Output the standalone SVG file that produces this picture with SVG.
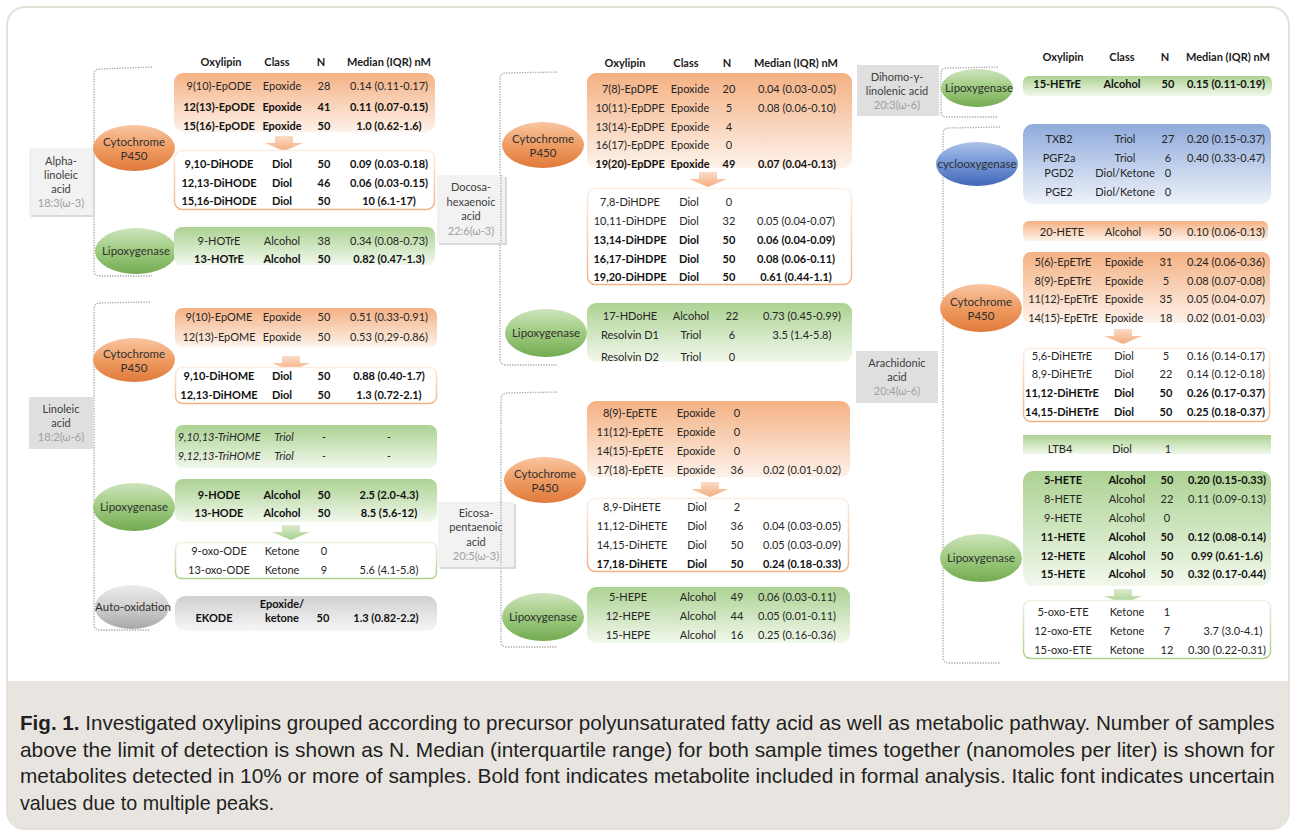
<svg xmlns="http://www.w3.org/2000/svg" width="1294" height="833" viewBox="0 0 1294 833">
<defs>
<linearGradient id="gO" x1="0" y1="0" x2="0" y2="1"><stop offset="0" stop-color="#f4b183"/><stop offset="1" stop-color="#fdf2ea"/></linearGradient>
<linearGradient id="gG" x1="0" y1="0" x2="0" y2="1"><stop offset="0" stop-color="#acd292"/><stop offset="1" stop-color="#f1f8ec"/></linearGradient>
<linearGradient id="gB" x1="0" y1="0" x2="0" y2="1"><stop offset="0" stop-color="#8eaadb"/><stop offset="1" stop-color="#eef2fa"/></linearGradient>
<linearGradient id="gK" x1="0" y1="0" x2="0" y2="1"><stop offset="0" stop-color="#d0d0d0"/><stop offset="1" stop-color="#f6f6f6"/></linearGradient>
<linearGradient id="sO" x1="0" y1="0" x2="0" y2="1"><stop offset="0" stop-color="#fdeee4"/><stop offset="1" stop-color="#f4b183"/></linearGradient>
<linearGradient id="sG" x1="0" y1="0" x2="0" y2="1"><stop offset="0" stop-color="#eaf4e3"/><stop offset="1" stop-color="#a9d18e"/></linearGradient>
<linearGradient id="eO" x1="0" y1="0" x2="0" y2="1"><stop offset="0" stop-color="#f9c6a2"/><stop offset="0.5" stop-color="#ef9c63"/><stop offset="1" stop-color="#e07a3a"/></linearGradient>
<linearGradient id="eG" x1="0" y1="0" x2="0" y2="1"><stop offset="0" stop-color="#cde4bc"/><stop offset="0.5" stop-color="#9ecb80"/><stop offset="1" stop-color="#73aa50"/></linearGradient>
<linearGradient id="eB" x1="0" y1="0" x2="0" y2="1"><stop offset="0" stop-color="#adc1e8"/><stop offset="0.5" stop-color="#7194d6"/><stop offset="1" stop-color="#4468b8"/></linearGradient>
<linearGradient id="eK" x1="0" y1="0" x2="0" y2="1"><stop offset="0" stop-color="#ececec"/><stop offset="0.5" stop-color="#cfcfcf"/><stop offset="1" stop-color="#a8a8a8"/></linearGradient>
<linearGradient id="aO" x1="0" y1="0" x2="0" y2="1"><stop offset="0" stop-color="#fbdcc8"/><stop offset="1" stop-color="#f3ac7c"/></linearGradient>
<linearGradient id="aG" x1="0" y1="0" x2="0" y2="1"><stop offset="0" stop-color="#dcecd0"/><stop offset="1" stop-color="#a6cf8a"/></linearGradient>
<path id="arr" d="M-9 0 h18 v7 h10 l-19 8 l-19 -8 h10 z"/>
<style>
text{font-family:Lato,"Liberation Sans",sans-serif;font-size:11px;fill:#262626;text-anchor:middle}
.h text,text.h{font-weight:bold;fill:#1a1a1a}
.b text{font-weight:bold;fill:#111}
.i text{font-style:italic}
.en{font-size:11.5px;fill:#303030}
.ac{fill:#404040;font-size:11px}
.ac2{fill:#a0a0a0;font-size:11px}
.br{fill:none;stroke:#a6a6a6;stroke-width:1.3;stroke-dasharray:1.3 1.3}
.cap{font-family:"Liberation Sans",Arial,sans-serif;font-size:21px;fill:#231f20;text-anchor:start}
</style>
</defs>

<g id="frame">
<rect x="7" y="7" width="1282" height="822" rx="18" fill="#ffffff" stroke="#e4e1d9" stroke-width="2"/>
<path d="M8 681 H1288 V811 Q1288 828 1271 828 H25 Q8 828 8 811 Z" fill="#e8e5e0"/>
</g>

<g id="connectors">
<path class="br" d="M152 67 L100 69 Q94 69 94 75 V270 Q94 276 100 276 H152"/>
<path class="br" d="M150 302 L100 303 Q94 303 94 309 V624 Q94 630 100 630 H150"/>
<path class="br" d="M557 72 L506 73 Q500 73 500 79 V359 Q500 365 506 365 H557"/>
<path class="br" d="M557 392 L507 393 Q501 393 501 399 V641 Q501 647 507 647 H557"/>
<path class="br" d="M998 67 L947 68 Q941 68 941 73 V112 Q941 117 947 117 H998"/>
<path class="br" d="M1000 127 L949 128 Q943 128 943 134 V657 Q943 663 949 663 H1000"/>
<use href="#arr" x="284" y="136" fill="url(#aO)"/>
<use href="#arr" x="291" y="356" fill="url(#aO)"/>
<use href="#arr" x="291" y="525" fill="url(#aG)"/>
<use href="#arr" x="708" y="172" fill="url(#aO)"/>
<use href="#arr" x="710" y="482" fill="url(#aO)"/>
<use href="#arr" x="1123" y="329" fill="url(#aO)"/>
<use href="#arr" x="1123" y="589" fill="url(#aG)"/>
</g>

<!-- Acid boxes -->
<g id="acid-alpha">
<rect x="31" y="150" width="64" height="67" fill="#d9d9d9"/>
<rect x="29" y="148" width="64" height="67" fill="#f2f2f2"/>
<text class="ac" x="61" y="165">Alpha-</text>
<text class="ac" x="61" y="179">linoleic</text>
<text class="ac" x="61" y="193">acid</text>
<text class="ac2" x="61" y="207">18:3(ω-3)</text>
</g>
<g id="acid-linoleic">
<rect x="29" y="397" width="64" height="52" fill="#dfdfdf"/>
<text class="ac" x="61" y="413">Linoleic</text>
<text class="ac" x="61" y="427">acid</text>
<text class="ac2" x="61" y="441">18:2(ω-6)</text>
</g>
<g id="acid-docosa">
<rect x="439" y="177" width="68" height="68" fill="#d9d9d9"/>
<rect x="437" y="175" width="68" height="68" fill="#f2f2f2"/>
<text class="ac" x="471" y="191">Docosa-</text>
<text class="ac" x="471" y="206">hexaenoic</text>
<text class="ac" x="471" y="220">acid</text>
<text class="ac2" x="471" y="235">22:6(ω-3)</text>
</g>
<g id="acid-eicosa">
<rect x="440" y="504" width="76" height="65" fill="#d9d9d9"/>
<rect x="438" y="502" width="76" height="65" fill="#f2f2f2"/>
<text class="ac" x="476" y="517">Eicosa-</text>
<text class="ac" x="476" y="531">pentaenoic</text>
<text class="ac" x="476" y="546">acid</text>
<text class="ac2" x="476" y="560">20:5(ω-3)</text>
</g>
<g id="acid-dihomo">
<rect x="857" y="65" width="82" height="51" fill="#dfdfdf"/>
<text class="ac" x="897" y="81">Dihomo-γ-</text>
<text class="ac" x="897" y="95">linolenic acid</text>
<text class="ac2" x="897" y="109">20:3(ω-6)</text>
</g>
<g id="acid-arachidonic">
<rect x="856" y="351" width="82" height="52" fill="#dfdfdf"/>
<text class="ac" x="897" y="367">Arachidonic</text>
<text class="ac" x="897" y="381">acid</text>
<text class="ac2" x="897" y="395">20:4(ω-6)</text>
</g>
<path d="M501 175 V243 M501 502 V567" class="br"/>

<!-- Enzyme ellipses -->
<g id="enz-alpha-cyp"><ellipse cx="134" cy="148" rx="41" ry="23" fill="url(#eO)"/><text class="en" x="134" y="146">Cytochrome</text><text class="en" x="134" y="160">P450</text></g>
<g id="enz-alpha-lox"><ellipse cx="136" cy="251" rx="41" ry="23" fill="url(#eG)"/><text class="en" x="136" y="255">Lipoxygenase</text></g>
<g id="enz-lin-cyp"><ellipse cx="134" cy="360" rx="41" ry="22" fill="url(#eO)"/><text class="en" x="134" y="358">Cytochrome</text><text class="en" x="134" y="372">P450</text></g>
<g id="enz-lin-lox"><ellipse cx="134" cy="507" rx="41" ry="24" fill="url(#eG)"/><text class="en" x="134" y="511">Lipoxygenase</text></g>
<g id="enz-lin-auto"><ellipse cx="132" cy="607" rx="37" ry="22" fill="url(#eK)"/><text class="en" x="133" y="611">Auto-oxidation</text></g>
<g id="enz-dha-cyp"><ellipse cx="543" cy="145" rx="41" ry="23" fill="url(#eO)"/><text class="en" x="543" y="143">Cytochrome</text><text class="en" x="543" y="157">P450</text></g>
<g id="enz-dha-lox"><ellipse cx="546" cy="333" rx="41" ry="24" fill="url(#eG)"/><text class="en" x="546" y="337">Lipoxygenase</text></g>
<g id="enz-epa-cyp"><ellipse cx="545" cy="480" rx="41" ry="23" fill="url(#eO)"/><text class="en" x="545" y="478">Cytochrome</text><text class="en" x="545" y="492">P450</text></g>
<g id="enz-epa-lox"><ellipse cx="543" cy="617" rx="41" ry="24" fill="url(#eG)"/><text class="en" x="543" y="621">Lipoxygenase</text></g>
<g id="enz-dgla-lox"><ellipse cx="977" cy="88" rx="36" ry="19" fill="url(#eG)"/><text class="en" x="979" y="92">Lipoxygenase</text></g>
<g id="enz-aa-cox"><ellipse cx="977" cy="164" rx="41" ry="22" fill="url(#eB)"/><text class="en" x="977" y="168">cyclooxygenase</text></g>
<g id="enz-aa-cyp"><ellipse cx="981" cy="308" rx="41" ry="24" fill="url(#eO)"/><text class="en" x="981" y="306">Cytochrome</text><text class="en" x="981" y="320">P450</text></g>
<g id="enz-aa-lox"><ellipse cx="981" cy="558" rx="41" ry="24" fill="url(#eG)"/><text class="en" x="981" y="562">Lipoxygenase</text></g>

<!-- Headers -->
<g id="hdr-left" class="h"><text x="221" y="66">Oxylipin</text><text x="277" y="66">Class</text><text x="321" y="66">N</text><text x="389" y="66">Median (IQR) nM</text></g>
<g id="hdr-mid" class="h"><text x="625" y="67">Oxylipin</text><text x="686" y="67">Class</text><text x="727" y="67">N</text><text x="796" y="67">Median (IQR) nM</text></g>
<g id="hdr-right" class="h"><text x="1063" y="61">Oxylipin</text><text x="1122" y="61">Class</text><text x="1165" y="61">N</text><text x="1228" y="61">Median (IQR) nM</text></g>

<!-- Alpha-linoleic tables -->
<g id="tbl-ala-epox">
<rect x="174" y="73" width="261" height="59" rx="9" fill="url(#gO)"/>
<g><text x="219" y="90">9(10)-EpODE</text><text x="282" y="90">Epoxide</text><text x="324" y="90">28</text><text x="389" y="90">0.14 (0.11-0.17)</text></g>
<g class="b"><text x="219" y="111">12(13)-EpODE</text><text x="282" y="111">Epoxide</text><text x="324" y="111">41</text><text x="389" y="111">0.11 (0.07-0.15)</text></g>
<g class="b"><text x="219" y="130">15(16)-EpODE</text><text x="282" y="130">Epoxide</text><text x="324" y="130">50</text><text x="389" y="130">1.0 (0.62-1.6)</text></g>
</g>
<g id="tbl-ala-diol">
<rect x="174.5" y="150.5" width="260" height="59" rx="8" fill="#fff" stroke="url(#sO)" stroke-width="1.5"/>
<g class="b"><text x="219" y="168">9,10-DiHODE</text><text x="282" y="168">Diol</text><text x="324" y="168">50</text><text x="389" y="168">0.09 (0.03-0.18)</text></g>
<g class="b"><text x="219" y="187">12,13-DiHODE</text><text x="282" y="187">Diol</text><text x="324" y="187">46</text><text x="389" y="187">0.06 (0.03-0.15)</text></g>
<g class="b"><text x="219" y="205">15,16-DiHODE</text><text x="282" y="205">Diol</text><text x="324" y="205">50</text><text x="389" y="205">10 (6.1-17)</text></g>
</g>
<g id="tbl-ala-lox">
<rect x="174" y="227" width="261" height="38" rx="8" fill="url(#gG)"/>
<g><text x="219" y="245">9-HOTrE</text><text x="282" y="245">Alcohol</text><text x="324" y="245">38</text><text x="389" y="245">0.34 (0.08-0.73)</text></g>
<g class="b"><text x="219" y="263">13-HOTrE</text><text x="282" y="263">Alcohol</text><text x="324" y="263">50</text><text x="389" y="263">0.82 (0.47-1.3)</text></g>
</g>

<!-- Linoleic tables -->
<g id="tbl-la-epox">
<rect x="175" y="308" width="262" height="39" rx="8" fill="url(#gO)"/>
<g><text x="219" y="321">9(10)-EpOME</text><text x="282" y="321">Epoxide</text><text x="324" y="321">50</text><text x="389" y="321">0.51 (0.33-0.91)</text></g>
<g><text x="219" y="341">12(13)-EpOME</text><text x="282" y="341">Epoxide</text><text x="324" y="341">50</text><text x="389" y="341">0.53 (0,29-0.86)</text></g>
</g>
<g id="tbl-la-diol">
<rect x="175.5" y="367.5" width="261" height="36" rx="7" fill="#fff" stroke="url(#sO)" stroke-width="1.5"/>
<g class="b"><text x="219" y="380">9,10-DiHOME</text><text x="282" y="380">Diol</text><text x="324" y="380">50</text><text x="389" y="380">0.88 (0.40-1.7)</text></g>
<g class="b"><text x="219" y="399">12,13-DiHOME</text><text x="282" y="399">Diol</text><text x="324" y="399">50</text><text x="389" y="399">1.3 (0.72-2.1)</text></g>
</g>
<g id="tbl-la-trihome">
<rect x="175" y="425" width="262" height="43" rx="8" fill="url(#gG)"/>
<g class="i"><text x="219" y="441">9,10,13-TriHOME</text><text x="284" y="441">Triol</text><text x="324" y="441">-</text><text x="389" y="441">-</text></g>
<g class="i"><text x="219" y="460">9,12,13-TriHOME</text><text x="284" y="460">Triol</text><text x="324" y="460">-</text><text x="389" y="460">-</text></g>
</g>
<g id="tbl-la-hode">
<rect x="175" y="479" width="262" height="43" rx="8" fill="url(#gG)"/>
<g class="b"><text x="219" y="499">9-HODE</text><text x="282" y="499">Alcohol</text><text x="324" y="499">50</text><text x="389" y="499">2.5 (2.0-4.3)</text></g>
<g class="b"><text x="219" y="517">13-HODE</text><text x="282" y="517">Alcohol</text><text x="324" y="517">50</text><text x="389" y="517">8.5 (5.6-12)</text></g>
</g>
<g id="tbl-la-oxo">
<rect x="175.5" y="542.5" width="261" height="36" rx="6" fill="#fff" stroke="url(#sG)" stroke-width="1.5"/>
<g><text x="219" y="555">9-oxo-ODE</text><text x="282" y="555">Ketone</text><text x="324" y="555">0</text></g>
<g><text x="219" y="574">13-oxo-ODE</text><text x="282" y="574">Ketone</text><text x="324" y="574">9</text><text x="389" y="574">5.6 (4.1-5.8)</text></g>
</g>
<g id="tbl-la-ekode">
<rect x="175" y="596" width="262" height="35" rx="10" fill="url(#gK)"/>
<g class="b"><text x="214" y="622">EKODE</text><text x="282" y="608">Epoxide/</text><text x="282" y="622">ketone</text><text x="323" y="622">50</text><text x="386" y="622">1.3 (0.82-2.2)</text></g>
</g>

<!-- Docosahexaenoic tables -->
<g id="tbl-dha-epox">
<rect x="587" y="73" width="265" height="95" rx="9" fill="url(#gO)"/>
<g><text x="630" y="93">7(8)-EpDPE</text><text x="690" y="93">Epoxide</text><text x="729" y="93">20</text><text x="797" y="93">0.04 (0.03-0.05)</text></g>
<g><text x="630" y="112">10(11)-EpDPE</text><text x="690" y="112">Epoxide</text><text x="729" y="112">5</text><text x="797" y="112">0.08 (0.06-0.10)</text></g>
<g><text x="630" y="131">13(14)-EpDPE</text><text x="690" y="131">Epoxide</text><text x="729" y="131">4</text></g>
<g><text x="630" y="149">16(17)-EpDPE</text><text x="690" y="149">Epoxide</text><text x="729" y="149">0</text></g>
<g class="b"><text x="630" y="168">19(20)-EpDPE</text><text x="690" y="168">Epoxide</text><text x="729" y="168">49</text><text x="797" y="168">0.07 (0.04-0.13)</text></g>
</g>
<g id="tbl-dha-diol">
<rect x="587.5" y="188.5" width="264" height="96" rx="8" fill="#fff" stroke="url(#sO)" stroke-width="1.5"/>
<g><text x="630" y="206">7,8-DiHDPE</text><text x="689" y="206">Diol</text><text x="729" y="206">0</text></g>
<g><text x="630" y="225">10,11-DiHDPE</text><text x="689" y="225">Diol</text><text x="729" y="225">32</text><text x="796" y="225">0.05 (0.04-0.07)</text></g>
<g class="b"><text x="630" y="244">13,14-DiHDPE</text><text x="689" y="244">Diol</text><text x="729" y="244">50</text><text x="796" y="244">0.06 (0.04-0.09)</text></g>
<g class="b"><text x="630" y="263">16,17-DiHDPE</text><text x="689" y="263">Diol</text><text x="729" y="263">50</text><text x="796" y="263">0.08 (0.06-0.11)</text></g>
<g class="b"><text x="630" y="281">19,20-DiHDPE</text><text x="689" y="281">Diol</text><text x="729" y="281">50</text><text x="796" y="281">0.61 (0.44-1.1)</text></g>
</g>
<g id="tbl-dha-lox">
<rect x="587" y="303" width="265" height="59" rx="9" fill="url(#gG)"/>
<g><text x="630" y="320">17-HDoHE</text><text x="691" y="320">Alcohol</text><text x="732" y="320">22</text><text x="802" y="320">0.73 (0.45-0.99)</text></g>
<g><text x="630" y="339">Resolvin D1</text><text x="691" y="339">Triol</text><text x="732" y="339">6</text><text x="802" y="339">3.5 (1.4-5.8)</text></g>
<g><text x="630" y="361">Resolvin D2</text><text x="691" y="361">Triol</text><text x="732" y="361">0</text></g>
</g>

<!-- Eicosapentaenoic tables -->
<g id="tbl-epa-epox">
<rect x="587" y="401" width="263" height="76" rx="9" fill="url(#gO)"/>
<g><text x="630" y="417">8(9)-EpETE</text><text x="696" y="417">Epoxide</text><text x="737" y="417">0</text></g>
<g><text x="630" y="436">11(12)-EpETE</text><text x="696" y="436">Epoxide</text><text x="737" y="436">0</text></g>
<g><text x="630" y="455">14(15)-EpETE</text><text x="696" y="455">Epoxide</text><text x="737" y="455">0</text></g>
<g><text x="630" y="474">17(18)-EpETE</text><text x="696" y="474">Epoxide</text><text x="737" y="474">36</text><text x="802" y="474">0.02 (0.01-0.02)</text></g>
</g>
<g id="tbl-epa-diol">
<rect x="587.5" y="498.5" width="261" height="73" rx="8" fill="#fff" stroke="url(#sO)" stroke-width="1.5"/>
<g><text x="632" y="511">8,9-DiHETE</text><text x="697" y="511">Diol</text><text x="737" y="511">2</text></g>
<g><text x="632" y="530">11,12-DiHETE</text><text x="697" y="530">Diol</text><text x="737" y="530">36</text><text x="802" y="530">0.04 (0.03-0.05)</text></g>
<g><text x="632" y="549">14,15-DiHETE</text><text x="697" y="549">Diol</text><text x="737" y="549">50</text><text x="802" y="549">0.05 (0.03-0.09)</text></g>
<g class="b"><text x="632" y="568">17,18-DiHETE</text><text x="697" y="568">Diol</text><text x="737" y="568">50</text><text x="802" y="568">0.24 (0.18-0.33)</text></g>
</g>
<g id="tbl-epa-lox">
<rect x="587" y="587" width="263" height="56" rx="9" fill="url(#gG)"/>
<g><text x="628" y="601">5-HEPE</text><text x="698" y="601">Alcohol</text><text x="737" y="601">49</text><text x="797" y="601">0.06 (0.03-0.11)</text></g>
<g><text x="628" y="620">12-HEPE</text><text x="698" y="620">Alcohol</text><text x="737" y="620">44</text><text x="797" y="620">0.05 (0.01-0.11)</text></g>
<g><text x="628" y="639">15-HEPE</text><text x="698" y="639">Alcohol</text><text x="737" y="639">16</text><text x="797" y="639">0.25 (0.16-0.36)</text></g>
</g>

<!-- Dihomo-gamma-linolenic -->
<g id="tbl-dgla-lox">
<rect x="1023" y="76" width="249" height="20" rx="6" fill="url(#gG)"/>
<g class="b"><text x="1057" y="88">15-HETrE</text><text x="1122" y="88">Alcohol</text><text x="1168" y="88">50</text><text x="1226" y="88">0.15 (0.11-0.19)</text></g>
</g>

<!-- Arachidonic tables -->
<g id="tbl-aa-cox">
<rect x="1023" y="124" width="248" height="80" rx="10" fill="url(#gB)"/>
<g><text x="1059" y="143">TXB2</text><text x="1125" y="143">Triol</text><text x="1168" y="143">27</text><text x="1226" y="143">0.20 (0.15-0.37)</text></g>
<g><text x="1059" y="162">PGF2a</text><text x="1125" y="162">Triol</text><text x="1168" y="162">6</text><text x="1226" y="162">0.40 (0.33-0.47)</text></g>
<g><text x="1059" y="177">PGD2</text><text x="1125" y="177">Diol/Ketone</text><text x="1168" y="177">0</text></g>
<g><text x="1059" y="196">PGE2</text><text x="1125" y="196">Diol/Ketone</text><text x="1168" y="196">0</text></g>
</g>
<g id="tbl-aa-20hete">
<rect x="1023" y="221" width="245" height="20" rx="6" fill="url(#gO)"/>
<g><text x="1062" y="236">20-HETE</text><text x="1123" y="236">Alcohol</text><text x="1165" y="236">50</text><text x="1226" y="236">0.10 (0.06-0.13)</text></g>
</g>
<g id="tbl-aa-epox">
<rect x="1023" y="252" width="247" height="71" rx="8" fill="url(#gO)"/>
<g><text x="1063" y="266">5(6)-EpETrE</text><text x="1124" y="266">Epoxide</text><text x="1166" y="266">31</text><text x="1226" y="266">0.24 (0.06-0.36)</text></g>
<g><text x="1063" y="285">8(9)-EpETrE</text><text x="1124" y="285">Epoxide</text><text x="1166" y="285">5</text><text x="1226" y="285">0.08 (0.07-0.08)</text></g>
<g><text x="1063" y="303">11(12)-EpETrE</text><text x="1124" y="303">Epoxide</text><text x="1166" y="303">35</text><text x="1226" y="303">0.05 (0.04-0.07)</text></g>
<g><text x="1063" y="322">14(15)-EpETrE</text><text x="1124" y="322">Epoxide</text><text x="1166" y="322">18</text><text x="1226" y="322">0.02 (0.01-0.03)</text></g>
</g>
<g id="tbl-aa-diol">
<rect x="1023.5" y="348.5" width="246" height="73" rx="7" fill="#fff" stroke="url(#sO)" stroke-width="1.5"/>
<g><text x="1062" y="360">5,6-DiHETrE</text><text x="1124" y="360">Diol</text><text x="1166" y="360">5</text><text x="1226" y="360">0.16 (0.14-0.17)</text></g>
<g><text x="1062" y="378">8,9-DiHETrE</text><text x="1124" y="378">Diol</text><text x="1166" y="378">22</text><text x="1226" y="378">0.14 (0.12-0.18)</text></g>
<g class="b"><text x="1062" y="397">11,12-DiHETrE</text><text x="1124" y="397">Diol</text><text x="1166" y="397">50</text><text x="1226" y="397">0.26 (0.17-0.37)</text></g>
<g class="b"><text x="1062" y="416">14,15-DiHETrE</text><text x="1124" y="416">Diol</text><text x="1166" y="416">50</text><text x="1226" y="416">0.25 (0.18-0.37)</text></g>
</g>
<g id="tbl-aa-ltb4">
<rect x="1023" y="435" width="248" height="19" fill="url(#gG)"/>
<g><text x="1060" y="453">LTB4</text><text x="1122" y="453">Diol</text><text x="1168" y="453">1</text></g>
</g>
<g id="tbl-aa-hete">
<rect x="1023" y="471" width="248" height="115" rx="10" fill="url(#gG)"/>
<g class="b"><text x="1063" y="484">5-HETE</text><text x="1127" y="484">Alcohol</text><text x="1167" y="484">50</text><text x="1227" y="484">0.20 (0.15-0.33)</text></g>
<g><text x="1063" y="503">8-HETE</text><text x="1127" y="503">Alcohol</text><text x="1167" y="503">22</text><text x="1227" y="503">0.11 (0.09-0.13)</text></g>
<g><text x="1063" y="522">9-HETE</text><text x="1127" y="522">Alcohol</text><text x="1167" y="522">0</text></g>
<g class="b"><text x="1063" y="541">11-HETE</text><text x="1127" y="541">Alcohol</text><text x="1167" y="541">50</text><text x="1227" y="541">0.12 (0.08-0.14)</text></g>
<g class="b"><text x="1063" y="560">12-HETE</text><text x="1127" y="560">Alcohol</text><text x="1167" y="560">50</text><text x="1227" y="560">0.99 (0.61-1.6)</text></g>
<g class="b"><text x="1063" y="578">15-HETE</text><text x="1127" y="578">Alcohol</text><text x="1167" y="578">50</text><text x="1227" y="578">0.32 (0.17-0.44)</text></g>
</g>
<g id="tbl-aa-oxo">
<rect x="1023.5" y="600.5" width="247" height="58" rx="7" fill="#fff" stroke="url(#sG)" stroke-width="1.5"/>
<g><text x="1063" y="616">5-oxo-ETE</text><text x="1127" y="616">Ketone</text><text x="1167" y="616">1</text></g>
<g><text x="1063" y="635">12-oxo-ETE</text><text x="1127" y="635">Ketone</text><text x="1167" y="635">7</text><text x="1233" y="635">3.7 (3.0-4.1)</text></g>
<g><text x="1063" y="654">15-oxo-ETE</text><text x="1127" y="654">Ketone</text><text x="1167" y="654">12</text><text x="1227" y="654">0.30 (0.22-0.31)</text></g>
</g>

<g id="caption" transform="translate(20,0) scale(0.85,1)">
<text class="cap" x="0" y="730" textLength="1476" lengthAdjust="spacingAndGlyphs"><tspan font-weight="bold">Fig. 1.</tspan>  Investigated oxylipins grouped according to precursor polyunsaturated fatty acid as well as metabolic pathway. Number of samples</text>
<text class="cap" x="0" y="757" textLength="1476" lengthAdjust="spacingAndGlyphs">above the limit of detection is shown as N. Median (interquartile range) for both sample times together (nanomoles per liter) is shown for</text>
<text class="cap" x="0" y="783" textLength="1476" lengthAdjust="spacingAndGlyphs">metabolites detected in 10% or more of samples. Bold font indicates metabolite included in formal analysis. Italic font indicates uncertain</text>
<text class="cap" x="0" y="810" textLength="299" lengthAdjust="spacingAndGlyphs">values due to multiple peaks.</text>
</g>
</svg>
